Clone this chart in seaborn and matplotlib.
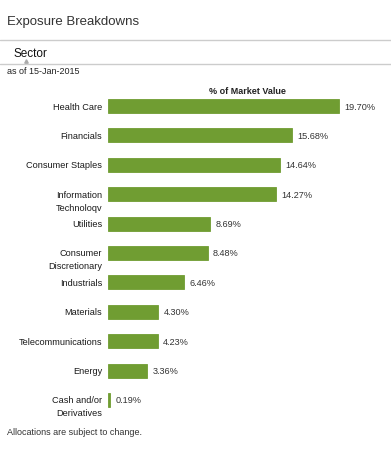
import matplotlib
matplotlib.use("Agg")
import matplotlib.pyplot as plt
import seaborn as sns
import pandas as pd

sectors = ["Health Care", "Financials", "Consumer Staples", "Information\nTechnoloqv",
           "Utilities", "Consumer\nDiscretionary", "Industrials", "Materials",
           "Telecommunications", "Energy", "Cash and/or\nDerivatives"]
values = [19.70, 15.68, 14.64, 14.27, 8.69, 8.48, 6.46, 4.30, 4.23, 3.36, 0.19]
value_labels = ["19.70%", "15.68%", "14.64%", "14.27%", "8.69%", "8.48%",
                "6.46%", "4.30%", "4.23%", "3.36%", "0.19%"]

sns.set_style("white")
plt.rcParams['font.family'] = ['Liberation Sans', 'DejaVu Sans']

W, H = 391, 452
fig = plt.figure(figsize=(W / 100, H / 100), dpi=100)

df = pd.DataFrame({"sector": sectors, "value": values})

# axes placed in pixel terms
left, right, top, bottom = 108, 391, 92.3, 415.7
ax = fig.add_axes([left / W, 1 - bottom / H, (right - left) / W, (bottom - top) / H])
sns.barplot(data=df, x="value", y="sector", orient="h", color="#709d32",
            width=0.47, saturation=1, linewidth=0.6, edgecolor="#709d32", ax=ax)
ax.set_xlim(0, 24.1)
ax.set_ylim(len(sectors) - 0.5, -0.5)
ax.set_xlabel("")
ax.set_ylabel("")
ax.set_xticks([])
ax.set_yticks([])
for s in ax.spines.values():
    s.set_visible(False)

tf = ax.get_yaxis_transform()
for i, (name, v, lab) in enumerate(zip(sectors, values, value_labels)):
    ax.text(v + 0.45, i, lab, va="center", ha="left", fontsize=6.6, color="#333333")
    lines = name.split("\n")
    ax.text(-0.02, i, lines[0], transform=tf, va="center", ha="right",
            fontsize=6.6, color="#1a1a1a")
    if len(lines) > 1:
        ax.text(-0.02, i + 0.44, lines[1], transform=tf, va="center", ha="right",
                fontsize=6.6, color="#1a1a1a", clip_on=False)

# header bits
fig.text(7 / W, 1 - 22 / H, "Exposure Breakdowns", fontsize=9.5, color="#333333", va="center")
fig.add_artist(plt.Line2D([0, 1], [1 - 41 / H, 1 - 41 / H], color="#cccccc", lw=1))
fig.text(14 / W, 1 - 54 / H, "Sector", fontsize=8.5, color="#111111", va="center")
fig.add_artist(plt.Line2D([26 / W], [1 - 62 / H], marker="^", markersize=2.5,
                          color="#aaaaaa", linestyle="none"))
fig.add_artist(plt.Line2D([0, 1], [1 - 65 / H, 1 - 65 / H], color="#cccccc", lw=1))
fig.text(7 / W, 1 - 72 / H, "as of 15-Jan-2015", fontsize=6.5, color="#222222", va="center")
fig.text(247 / W, 1 - 91 / H, "% of Market Value", fontsize=6.5, fontweight="bold",
         color="#222222", va="center", ha="center")
fig.text(7 / W, 1 - 433 / H, "Allocations are subject to change.", fontsize=6.5,
         color="#333333", va="center")

fig.savefig("out.png", dpi=100, facecolor="white")
